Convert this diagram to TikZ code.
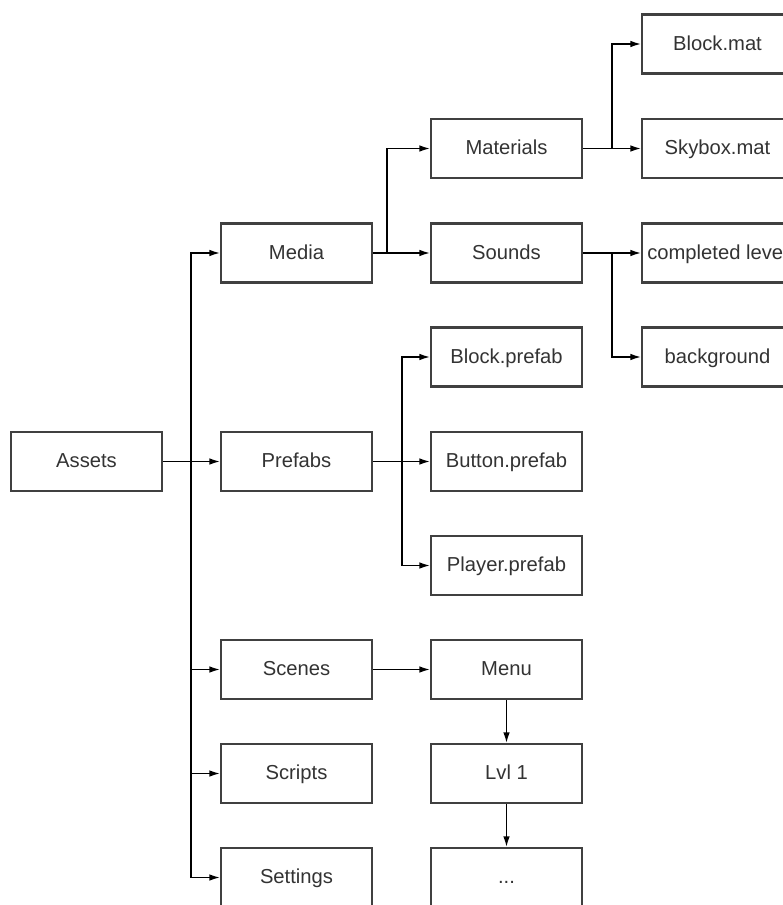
\documentclass[tikz,border=0pt]{standalone}
\usepackage{fontspec}
\setmainfont{Liberation Sans}
\usetikzlibrary{arrows.meta,backgrounds}
\pgfdeclarelayer{edgelayer}
\pgfdeclarelayer{nodelayer}
\pgfsetlayers{background,edgelayer,nodelayer,main}
\tikzstyle{box}=[draw=black!75,line width=1.2pt,fill=white,text=black!80,minimum width=3.02cm,minimum height=1.18cm,inner sep=0pt,text height=1.6ex,text depth=0.3ex,font=\fontsize{11.5}{13}\selectfont]
\tikzstyle{edge}=[line width=0.8pt,black]
\tikzstyle{diredge}=[edge,-{Latex[length=2.1mm,width=1.3mm]}]

\begin{document}
\begin{tikzpicture}[x=0.02cm,y=-0.02cm]
	\useasboundingbox (0,0) rectangle (783,905);
	\begin{pgfonlayer}{nodelayer}
		\clip (0,0) rectangle (783,905);
		\node [style=box] (assets) at (86.5, 461.5) {Assets};
		% second column
		\node [style=box] (media) at (296.5, 253) {Media};
		\node [style=box] (prefabs) at (296.5, 461.5) {Prefabs};
		\node [style=box] (scenes) at (296.5, 669.5) {Scenes};
		\node [style=box] (scripts) at (296.5, 773.5) {Scripts};
		\node [style=box] (settings) at (296.5, 877.5) {Settings};
		% third column
		\node [style=box] (materials) at (506.5, 148.5) {Materials};
		\node [style=box] (sounds) at (506.5, 253) {Sounds};
		\node [style=box] (blockprefab) at (506.5, 357) {Block.prefab};
		\node [style=box] (buttonprefab) at (506.5, 461.5) {Button.prefab};
		\node [style=box] (playerprefab) at (506.5, 565.5) {Player.prefab};
		\node [style=box] (menu) at (506.5, 669.5) {Menu};
		\node [style=box] (lvl) at (506.5, 773.5) {Lvl 1};
		\node [style=box] (more) at (506.5, 877.5) {...};
		% fourth column
		\node [style=box] (blockmat) at (717.5, 44) {Block.mat};
		\node [style=box] (skybox) at (717.5, 148.5) {Skybox.mat};
		\node [style=box] (completed) at (717.5, 253) {completed level};
		\node [style=box] (bgsound) at (717.5, 357) {background};
	\end{pgfonlayer}
	\begin{pgfonlayer}{edgelayer}
		\clip (0,0) rectangle (783,905);
		\coordinate (aj) at (191, 461.5);
		\coordinate (mj) at (387, 253);
		\coordinate (matj) at (612, 148.5);
		\coordinate (sj) at (612, 253);
		\coordinate (pj) at (402, 461.5);
		\draw[style=edge] (assets) -- (aj);
		\foreach \n in {media,prefabs,scenes,scripts,settings}
			\draw[style=diredge] (aj) |- (\n);
		\draw[style=edge] (media) -- (mj);
		\draw[style=diredge] (mj) |- (materials);
		\draw[style=diredge] (mj) |- (sounds);
		\draw[style=edge] (materials) -- (matj);
		\draw[style=diredge] (matj) |- (blockmat);
		\draw[style=diredge] (matj) |- (skybox);
		\draw[style=edge] (sounds) -- (sj);
		\draw[style=diredge] (sj) |- (completed);
		\draw[style=diredge] (sj) |- (bgsound);
		\draw[style=edge] (prefabs) -- (pj);
		\foreach \n in {blockprefab,buttonprefab,playerprefab}
			\draw[style=diredge] (pj) |- (\n);
		\draw[style=diredge] (scenes) -- (menu);
		\draw[style=diredge] (menu) -- (lvl);
		\draw[style=diredge] (lvl) -- (more);
	\end{pgfonlayer}
\end{tikzpicture}
\end{document}
